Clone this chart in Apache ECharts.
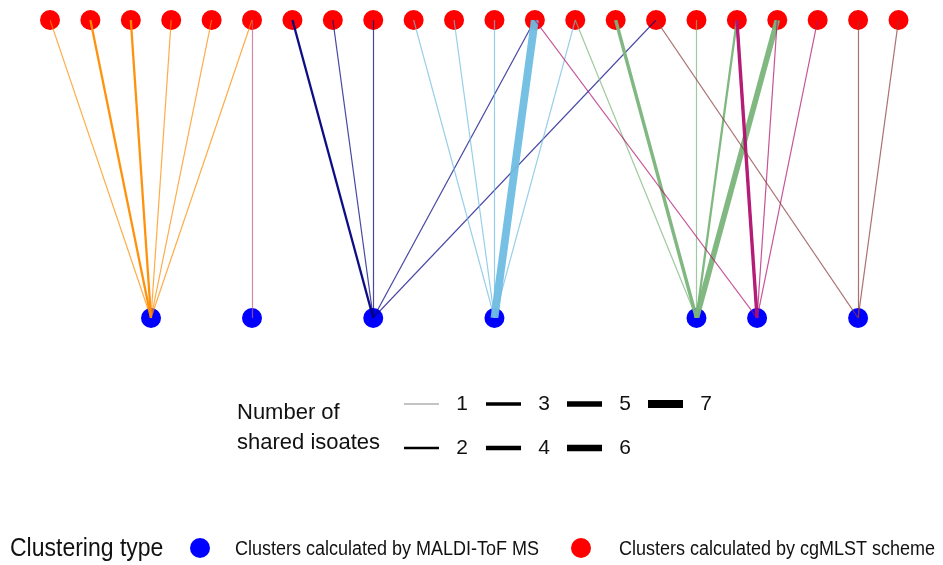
<!DOCTYPE html>
<html>
<head>
<meta charset="utf-8">
<script src="https://cdn.jsdelivr.net/npm/echarts@6/dist/echarts.min.js"></script>
<style>html,body{margin:0;padding:0;background:#fff;}#c{width:943px;height:565px;}</style>
</head>
<body>
<div id="c"></div>
<script>
// ---- data ----
// 22 cgMLST clusters (top row), indexed 0..21
const cgmlstClusters = ['1','2','3','4','5','6','7','8','9','10','11','12','13','14','15','16','17','18','19','20','21','22'];
// 7 MALDI-ToF MS clusters (bottom row)
const maldiClusters = ['A','B','C','D','E','F','G'];
// slot of each MALDI cluster along the row (in cgMLST slot units)
const maldiSlot = [2.5, 5, 8, 11, 16, 17.5, 20];
// links: [cgMLST index, MALDI index, number of shared isolates]
const linkTop    = [0,1,2,3,4,5, 5, 6,7,8,12,15, 9,10,11,12,13, 13,14,16,17,18, 12,17,18,19, 15,20,21];
const linkBottom = [0,0,0,0,0,0, 1, 2,2,2,2,2,  3,3,3,3,3,     4,4,4,4,4,      5,5,5,5,     6,6,6];
const linkShared = [1,2,2,1,1,1, 1, 2,1,1,1,1,  1,1,1,7,1,     1,3,1,2,5,      1,3,1,1,     1,1,1];
const legendValues = [1,2,3,4,5,6,7];

// ---- styles ----
const groupColors = ['#FF8C00','#C0607F','#000080','#6FBDE2','#7AB47A','#B0106E','#8B3A3A'];
const widthOf = v => 1.1 * v + 0.1;
const opacityOf = v => v === 1 ? 0.72 : 0.95;
const FONT = '"Liberation Sans", Arial, sans-serif';

const chart = echarts.init(document.getElementById('c'), null, {renderer: 'canvas'});

const topPts = cgmlstClusters.map((n, i) => ({name: n, value: [i, 1]}));
const botPts = maldiClusters.map((n, i) => ({name: n, value: [maldiSlot[i], 0]}));

const lineData = linkTop.map((t, k) => {
  const b = linkBottom[k], v = linkShared[k];
  return {
    coords: [[t, 1], [maldiSlot[b], 0]],
    value: v,
    lineStyle: {color: groupColors[b], width: widthOf(v), opacity: opacityOf(v)}
  };
});

// legend graphics
const g = [];
const rowY = [404, 448];
const colX = [404, 486, 567, 648];
legendValues.forEach((v, i) => {
  const col = Math.floor(i / 2), row = i % 2;
  const x0 = colX[col], y = rowY[row];
  g.push({type: 'line', shape: {x1: x0, y1: y, x2: x0 + 35, y2: y},
    style: {stroke: v === 1 ? '#888' : '#000', lineWidth: v === 1 ? 1 : widthOf(v)}});
  g.push({type: 'text', x: x0 + 58, y: y, style: {text: String(v), font: '21px ' + FONT, fill: '#111', align: 'center', verticalAlign: 'middle'}});
});
g.push({type: 'text', x: 237, y: 413, style: {text: 'Number of', font: '22px ' + FONT, fill: '#111', verticalAlign: 'middle'}});
g.push({type: 'text', x: 237, y: 443, style: {text: 'shared isoates', font: '22px ' + FONT, fill: '#111', verticalAlign: 'middle'}});

g.push({type: 'text', x: 10, y: 549, scaleX: 0.92, style: {text: 'Clustering type', font: '25px ' + FONT, fill: '#111', verticalAlign: 'middle'}});
g.push({type: 'circle', shape: {cx: 200, cy: 548, r: 10}, style: {fill: '#0000FF'}});
g.push({type: 'text', x: 235, y: 549, scaleX: 0.9, style: {text: 'Clusters calculated by MALDI-ToF MS', font: '20px ' + FONT, fill: '#111', verticalAlign: 'middle'}});
g.push({type: 'circle', shape: {cx: 581, cy: 548, r: 10}, style: {fill: '#FF0000'}});
g.push({type: 'text', x: 619, y: 549, scaleX: 0.9, style: {text: 'Clusters calculated by cgMLST scheme', font: '20px ' + FONT, fill: '#111', verticalAlign: 'middle'}});

chart.setOption({
  animation: false,
  backgroundColor: '#fff',
  grid: {left: 50, right: 44.5, top: 20, bottom: 247},
  xAxis: {type: 'value', min: 0, max: cgmlstClusters.length - 1, show: false},
  yAxis: {type: 'value', min: 0, max: 1, show: false},
  series: [
    {type: 'scatter', name: 'cgMLST', data: topPts, symbolSize: 20, itemStyle: {color: '#FF0000', opacity: 1}, z: 1, silent: true},
    {type: 'scatter', name: 'MALDI', data: botPts, symbolSize: 20, itemStyle: {color: '#0000FF', opacity: 1}, z: 1, silent: true},
    {type: 'lines', coordinateSystem: 'cartesian2d', data: lineData, z: 3, silent: true, lineStyle: {curveness: 0}}
  ],
  graphic: g
});
</script>
</body>
</html>
